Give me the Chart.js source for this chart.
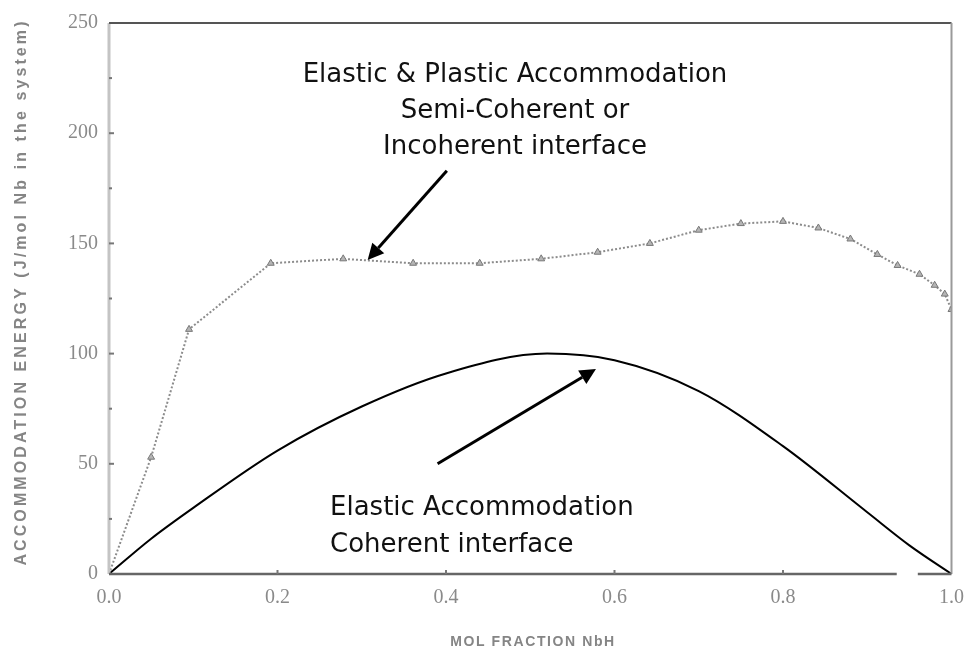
<!DOCTYPE html>
<html>
<head>
<meta charset="utf-8">
<script src="https://cdn.jsdelivr.net/npm/chart.js@4.4.1/dist/chart.umd.min.js"></script>
<style>
  html, body { margin: 0; padding: 0; background: #fff; }
  #wrap { width: 976px; height: 658px; }
</style>
</head>
<body>
<div id="wrap"><canvas id="chart"></canvas></div>
<script>
// Accommodation energy vs mol fraction NbH

// elastic (coherent) curve
const elasticX = [0, 0.05, 0.1, 0.2, 0.3, 0.4, 0.52, 0.6, 0.7, 0.8, 0.9, 0.95, 1.0];
const elasticY = [0, 16, 30, 56, 76, 91, 100, 97, 83, 58, 28, 13, 0];

// elastic + plastic (semi-coherent / incoherent) measurements
const plasticX = [0, 0.05, 0.095, 0.192, 0.278, 0.361, 0.44, 0.513, 0.58, 0.642, 0.70, 0.75, 0.80, 0.842, 0.88, 0.912, 0.936, 0.962, 0.98, 0.992, 1.0];
const plasticY = [0, 53, 111, 141, 143, 141, 141, 143, 146, 150, 156, 159, 160, 157, 152, 145, 140, 136, 131, 127, 120];

const xTicks = [0, 0.2, 0.4, 0.6, 0.8, 1.0];
const yTicks = [0, 50, 100, 150, 200, 250];

const toPoints = (xs, ys) => xs.map((x, i) => ({ x: x, y: ys[i] }));

// frame, axis titles, labels and arrows drawn over the plot
const notes = {
  id: 'notes',
  afterDatasetsDraw(chart) {
    const ctx = chart.ctx;
    const xs = chart.scales.x, ys = chart.scales.y;
    const a = chart.chartArea;

    // frame
    ctx.save();
    ctx.lineCap = 'butt';
    ctx.strokeStyle = '#c4c4c4'; ctx.lineWidth = 3;
    ctx.beginPath(); ctx.moveTo(a.left, a.top); ctx.lineTo(a.left, a.bottom); ctx.stroke();
    ctx.strokeStyle = '#555'; ctx.lineWidth = 2;
    ctx.beginPath(); ctx.moveTo(a.left, a.top); ctx.lineTo(a.right, a.top); ctx.stroke();
    ctx.strokeStyle = '#9a9a9a'; ctx.lineWidth = 2;
    ctx.beginPath(); ctx.moveTo(a.right, a.top); ctx.lineTo(a.right, a.bottom); ctx.stroke();
    ctx.strokeStyle = '#666'; ctx.lineWidth = 2.5;
    const gap0 = xs.getPixelForValue(0.935), gap1 = xs.getPixelForValue(0.96);
    ctx.beginPath();
    ctx.moveTo(a.left, a.bottom); ctx.lineTo(gap0, a.bottom);
    ctx.moveTo(gap1, a.bottom); ctx.lineTo(a.right, a.bottom);
    ctx.stroke();

    // inner tick marks
    ctx.strokeStyle = '#777'; ctx.lineWidth = 2;
    for (let v = 25; v < 250; v += 25) {
      const y = ys.getPixelForValue(v);
      const len = v % 50 === 0 ? 5 : 3;
      ctx.beginPath(); ctx.moveTo(a.left, y); ctx.lineTo(a.left + len, y); ctx.stroke();
    }
    xTicks.slice(1, -1).forEach(v => {
      const x = xs.getPixelForValue(v);
      ctx.beginPath(); ctx.moveTo(x, a.bottom); ctx.lineTo(x, a.bottom - 4); ctx.stroke();
    });

    // axis titles
    ctx.fillStyle = '#858585';
    ctx.font = 'bold 16px "Liberation Sans", Arial, sans-serif';
    ctx.letterSpacing = '3.1px';
    ctx.textAlign = 'center';
    ctx.textBaseline = 'middle';
    ctx.save();
    ctx.translate(22, 292);
    ctx.rotate(-Math.PI / 2);
    ctx.fillText('ACCOMMODATION ENERGY (J/mol Nb in the system)', 0, 0);
    ctx.restore();
    ctx.font = 'bold 14px "Liberation Sans", Arial, sans-serif';
    ctx.letterSpacing = '1.6px';
    ctx.fillText('MOL FRACTION NbH', 533, 642);
    ctx.letterSpacing = '0px';

    // annotation text
    ctx.fillStyle = '#111';
    ctx.font = '26px "DejaVu Sans", sans-serif';
    ctx.fillText('Elastic & Plastic Accommodation', 515, 75);
    ctx.fillText('Semi-Coherent or', 515, 111);
    ctx.fillText('Incoherent interface', 515, 147);
    ctx.textAlign = 'left';
    ctx.fillText('Elastic Accommodation', 330, 508);
    ctx.fillText('Coherent interface', 330, 545);

    // arrows
    const arrow = (x0, y0, x1, y1) => {
      const px0 = xs.getPixelForValue(x0), py0 = ys.getPixelForValue(y0);
      const px1 = xs.getPixelForValue(x1), py1 = ys.getPixelForValue(y1);
      const ang = Math.atan2(py1 - py0, px1 - px0);
      const head = 16, half = 8;
      const bx = px1 - head * Math.cos(ang), by = py1 - head * Math.sin(ang);
      ctx.strokeStyle = '#000'; ctx.lineWidth = 3;
      ctx.beginPath(); ctx.moveTo(px0, py0); ctx.lineTo(bx, by); ctx.stroke();
      ctx.fillStyle = '#000';
      ctx.beginPath();
      ctx.moveTo(px1, py1);
      ctx.lineTo(bx + half * Math.sin(ang), by - half * Math.cos(ang));
      ctx.lineTo(bx - half * Math.sin(ang), by + half * Math.cos(ang));
      ctx.closePath(); ctx.fill();
    };
    arrow(0.401, 183, 0.307, 142.5);
    arrow(0.39, 50, 0.578, 93);
    ctx.restore();
  }
};

new Chart(document.getElementById('chart').getContext('2d'), {
  type: 'scatter',
  data: {
    datasets: [
      {
        label: 'Elastic',
        data: toPoints(elasticX, elasticY),
        showLine: true,
        borderColor: '#000',
        borderWidth: 2,
        pointRadius: 0,
        cubicInterpolationMode: 'monotone'
      },
      {
        label: 'Elastic & Plastic',
        data: toPoints(plasticX, plasticY),
        showLine: true,
        borderColor: '#8c8c8c',
        borderWidth: 2,
        borderDash: [2, 2],
        pointStyle: 'triangle',
        pointRadius: 4,
        pointBorderColor: '#777',
        pointBackgroundColor: '#b5b5b5',
        pointBorderWidth: 1
      }
    ]
  },
  options: {
    responsive: true,
    maintainAspectRatio: false,
    animation: false,
    layout: { padding: { top: 19, right: 19, left: 0, bottom: 0 } },
    plugins: {
      legend: { display: false },
      tooltip: { enabled: false }
    },
    scales: {
      x: {
        type: 'linear',
        min: 0,
        max: 1,
        afterBuildTicks: s => { s.ticks = xTicks.map(v => ({ value: v })); },
        afterFit: s => { s.height = 84; },
        border: { display: false },
        grid: { display: false, drawTicks: false },
        ticks: {
          padding: 12,
          color: '#8a8a8a',
          font: { family: '"Liberation Serif", serif', size: 20 },
          callback: v => Number(v).toFixed(1)
        }
      },
      y: {
        type: 'linear',
        min: 0,
        max: 250,
        afterBuildTicks: s => { s.ticks = yTicks.map(v => ({ value: v })); },
        afterFit: s => { s.width = 109; },
        border: { display: false },
        grid: { display: false, drawTicks: false },
        ticks: {
          padding: 11,
          color: '#8a8a8a',
          font: { family: '"Liberation Serif", serif', size: 20 }
        }
      }
    }
  },
  plugins: [notes]
});
</script>
</body>
</html>
